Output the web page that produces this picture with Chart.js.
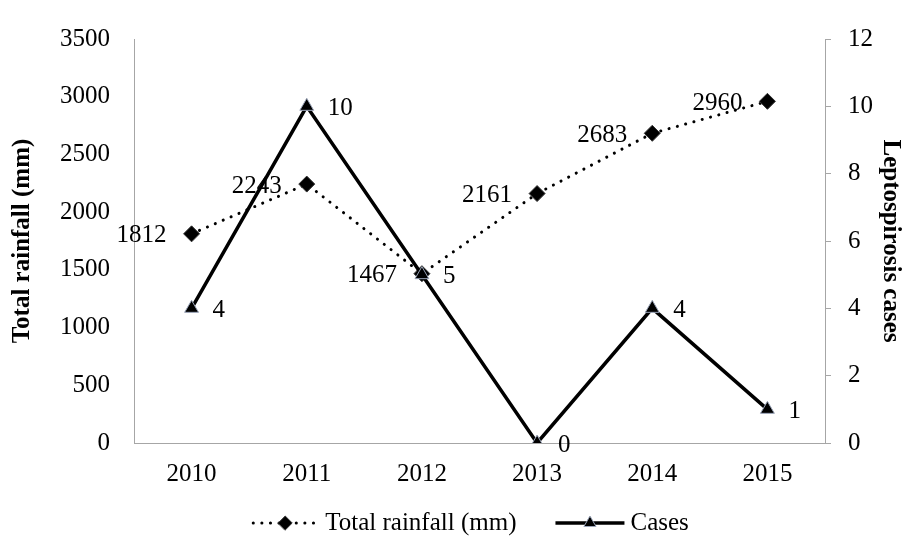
<!DOCTYPE html>
<html>
<head>
<meta charset="utf-8">
<script src="https://cdn.jsdelivr.net/npm/chart.js@4/dist/chart.umd.min.js"></script>
<style>
  html, body { margin: 0; padding: 0; background: #fff; }
  #wrap { width: 909px; height: 544px; }
</style>
</head>
<body>
<div id="wrap"><canvas id="c" width="909" height="544"></canvas></div>
<script>
// Annual rainfall and leptospirosis cases, 2010-2015
const years = ['2010', '2011', '2012', '2013', '2014', '2015'];
const rainfall = [1812, 2243, 1467, 2161, 2683, 2960];
const cases = [4, 10, 5, 0, 4, 1];

const rainAxis = { min: 0, max: 3500, step: 500 };
const casesAxis = { min: 0, max: 12, step: 2 };

const rainName = 'Total rainfall (mm)';
const casesName = 'Cases';
const rainTitle = 'Total rainfall (mm)';
const casesTitle = 'Leptospirosis cases';

const SERIF = '"Liberation Serif", "Times New Roman", Times, serif';
const AXIS_GREY = '#a6a6a6';
const FONT_SIZE = 25;

// Value labels beside each point: rainfall to the left, cases to the right
const valueLabels = {
  id: 'valueLabels',
  afterDatasetsDraw(chart) {
    const ctx = chart.ctx;
    ctx.save();
    ctx.font = FONT_SIZE + 'px ' + SERIF;
    ctx.fillStyle = '#000';
    ctx.textBaseline = 'middle';
    chart.data.datasets.forEach((ds, di) => {
      const meta = chart.getDatasetMeta(di);
      meta.data.forEach((pt, i) => {
        const v = ds.data[i];
        if (ds.labelSide === 'left') {
          ctx.textAlign = 'right';
          ctx.fillText(String(v), pt.x - 25, pt.y + 2);
        } else {
          ctx.textAlign = 'left';
          ctx.fillText(String(v), pt.x + 21, pt.y + 2);
        }
      });
    });
    ctx.restore();
  }
};

// Legend row under the axis: line sample with marker, then series name
const lineLegend = {
  id: 'lineLegend',
  afterDraw(chart) {
    const ctx = chart.ctx;
    const y = 523;
    ctx.save();
    ctx.font = FONT_SIZE + 'px ' + SERIF;
    const items = [
      { ds: chart.data.datasets[1], text: rainName, sample: 68, gap: 6 },
      { ds: chart.data.datasets[0], text: casesName, sample: 73, gap: 4 }
    ];
    const between = 37;
    let total = 0;
    items.forEach((it, k) => {
      it.w = ctx.measureText(it.text).width;
      total += it.sample + it.gap + it.w + (k ? 0 : between);
    });
    let x = 470 - total / 2;
    items.forEach((it) => {
      const ds = it.ds;
      ctx.save();
      ctx.strokeStyle = ds.borderColor;
      ctx.lineWidth = ds.borderWidth;
      ctx.lineCap = ds.borderCapStyle || 'butt';
      ctx.setLineDash(ds.borderDash || []);
      ctx.beginPath();
      ctx.moveTo(x + 2, y);
      ctx.lineTo(x + it.sample - 2, y);
      ctx.stroke();
      ctx.setLineDash([]);
      ctx.fillStyle = ds.pointBackgroundColor;
      ctx.strokeStyle = ds.pointBorderColor;
      ctx.lineWidth = ds.pointBorderWidth;
      Chart.helpers.drawPoint(ctx, {
        pointStyle: ds.pointStyle,
        radius: ds.pointRadius - 1,
        borderWidth: ds.pointBorderWidth,
        rotation: 0
      }, x + it.sample / 2, y);
      ctx.restore();
      x += it.sample + it.gap;
      ctx.fillStyle = '#000';
      ctx.textAlign = 'left';
      ctx.textBaseline = 'middle';
      ctx.fillText(it.text, x, y);
      x += it.w + between;
    });
    ctx.restore();
  }
};

const plainTick = (v) => String(v);

new Chart(document.getElementById('c'), {
  type: 'line',
  data: {
    labels: years,
    datasets: [
      {
        label: casesName,
        data: cases,
        yAxisID: 'yR',
        order: 0,
        labelSide: 'right',
        borderColor: '#000',
        borderWidth: 3.5,
        borderCapStyle: 'butt',
        pointStyle: 'triangle',
        pointRadius: 8,
        pointHoverRadius: 8,
        pointBackgroundColor: '#000',
        pointBorderColor: '#9aa4b8',
        pointBorderWidth: 1,
        fill: false,
        tension: 0
      },
      {
        label: rainName,
        data: rainfall,
        yAxisID: 'yL',
        order: 1,
        labelSide: 'left',
        borderColor: '#000',
        borderWidth: 3,
        borderDash: [0.1, 8.5],
        borderCapStyle: 'round',
        pointStyle: 'rectRot',
        pointRadius: 8,
        pointHoverRadius: 8,
        pointBackgroundColor: '#000',
        pointBorderColor: '#333',
        pointBorderWidth: 1,
        fill: false,
        tension: 0
      }
    ]
  },
  options: {
    responsive: false,
    animation: false,
    devicePixelRatio: 1,
    events: [],
    layout: { padding: { top: 21, right: 0, bottom: 50, left: 0 } },
    plugins: {
      legend: { display: false },
      tooltip: { enabled: false }
    },
    scales: {
      x: {
        offset: true,
        grid: { display: true, drawOnChartArea: false, drawTicks: false },
        border: { display: true, color: AXIS_GREY, width: 1 },
        ticks: { color: '#000', font: { family: SERIF, size: FONT_SIZE }, padding: 16, maxRotation: 0 },
        afterFit(s) { s.height = 51; }
      },
      yL: {
        position: 'left',
        min: rainAxis.min,
        max: rainAxis.max,
        grid: { display: true, drawOnChartArea: false, drawTicks: false },
        border: { display: true, color: AXIS_GREY, width: 1 },
        ticks: { stepSize: rainAxis.step, callback: plainTick, color: '#000', font: { family: SERIF, size: FONT_SIZE }, padding: 24 },
        title: {
          display: true, text: rainTitle, color: '#000',
          font: { family: SERIF, size: 25, weight: 'bold' },
          padding: { top: 8, bottom: 0 }
        },
        afterFit(s) { s.width = 134; }
      },
      yR: {
        position: 'right',
        min: casesAxis.min,
        max: casesAxis.max,
        grid: { display: true, drawOnChartArea: false, drawTicks: true, tickLength: 6, color: AXIS_GREY },
        border: { display: true, color: AXIS_GREY, width: 1 },
        ticks: { stepSize: casesAxis.step, callback: plainTick, color: '#000', font: { family: SERIF, size: FONT_SIZE }, padding: 17 },
        title: {
          display: true, text: casesTitle, color: '#000',
          font: { family: SERIF, size: 25, weight: 'bold' },
          padding: { top: 4, bottom: 0 }
        },
        afterFit(s) { s.width = 84; }
      }
    }
  },
  plugins: [valueLabels, lineLegend]
});
</script>
</body>
</html>
